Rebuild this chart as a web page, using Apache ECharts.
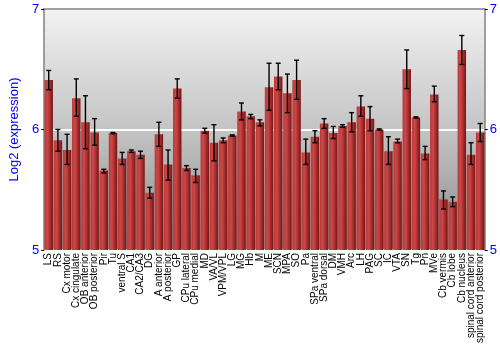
<!DOCTYPE html>
<html><head><meta charset="utf-8">
<script src="https://cdn.jsdelivr.net/npm/echarts@6/dist/echarts.min.js"></script>
<style>html,body{margin:0;padding:0;background:#fff}#c{width:500px;height:350px}</style>
</head><body><div id="c"></div>
<script>
const categories = ["LS","RS","Cx motor","Cx cingulate","OB anterior","OB posterior","Pir","Tu","ventral S","CA1","CA2/CA3","DG","A anterior","A posterior","GP","CPu lateral","CPu medial","MD","VA/VL","VPM/VPL","LG","MG","Hb","M","ME","SCN","MPA","SO","Pa","SPa ventral","SPa dorsal","DM","VMH","Arc","LH","PAG","SC","IC","VTA","SN","Tg","Pn","MVe","Cb vermis","Cb lobe","Cb nucleus","spinal cord anterior","spinal cord posterior"];
const values = [6.41,5.91,5.83,6.26,6.06,5.975,5.66,5.97,5.76,5.82,5.79,5.475,5.96,5.71,6.34,5.68,5.62,5.99,5.89,5.91,5.95,6.15,6.11,6.06,6.35,6.44,6.30,6.41,5.81,5.94,6.05,5.97,6.03,6.06,6.19,6.09,6.0,5.82,5.90,6.5,6.10,5.80,6.29,5.42,5.40,6.66,5.79,5.975];
const errHigh = [6.49,6.0,5.96,6.42,6.28,6.09,5.67,5.975,5.81,5.83,5.82,5.52,6.06,5.83,6.42,5.70,5.67,6.01,6.04,5.93,5.955,6.22,6.125,6.08,6.55,6.55,6.46,6.575,5.92,5.99,6.09,6.025,6.04,6.14,6.28,6.19,6.005,5.94,5.92,6.66,6.105,5.86,6.36,5.49,5.44,6.78,5.89,6.05];
const errLow = [6.33,5.82,5.71,6.11,5.84,5.87,5.64,5.965,5.71,5.81,5.76,5.43,5.86,5.58,6.26,5.66,5.56,5.97,5.74,5.89,5.945,6.08,6.09,6.03,6.16,6.33,6.14,6.25,5.71,5.89,6.01,5.925,6.02,5.98,6.11,5.99,5.995,5.71,5.89,6.34,6.095,5.75,6.23,5.34,5.36,6.54,5.71,5.90];
const yTicks = [5,6,7];

const chart = echarts.init(document.getElementById('c'), null, {renderer:'canvas'});
const barGrad = new echarts.graphic.LinearGradient(0,0,1,0,[
  {offset:0,color:'#b83838'},{offset:0.35,color:'#cc4848'},{offset:0.7,color:'#a42a2a'},{offset:1,color:'#701616'}
]);
const bgGrad = new echarts.graphic.LinearGradient(0,0,0,1,[
  {offset:0,color:'#f2f2f2'},{offset:0.5,color:'#c4c4c4'},{offset:1,color:'#8a8a8a'}
]);
const errData = categories.map((c,i)=>[i, errLow[i], errHigh[i]]);
const ff = 'Liberation Sans, Arial, sans-serif';
const axisLabelStyle = {color:'#0000ff', fontSize:13, fontFamily:ff, margin:5};
chart.setOption({
  animation:false,
  grid:{left:27,right:14,top:9,bottom:100,show:true,backgroundColor:bgGrad,borderWidth:0},
  xAxis:[
    {type:'category',data:categories,
     axisLine:{show:false},axisTick:{show:false},
     axisLabel:{rotate:90,interval:0,fontSize:10,color:'#000',margin:3,fontFamily:ff}},
    {type:'category',data:categories,position:'top',
     axisLine:{show:true,lineStyle:{color:'#808080',width:1.5}},axisTick:{show:false},axisLabel:{show:false}}
  ],
  yAxis:[
    {type:'value',min:5,max:7,interval:1,position:'left',
     name:'Log2 (expression)',nameLocation:'middle',nameGap:14,
     nameTextStyle:{color:'#0000ff',fontSize:13,fontFamily:ff},
     axisLine:{show:true,lineStyle:{color:'#808080',width:1.5}},
     axisTick:{show:true,length:3,lineStyle:{color:'#000'}},
     axisLabel:Object.assign({formatter:v=>yTicks.includes(v)?String(v):''},axisLabelStyle),
     splitLine:{show:true,lineStyle:{color:'#ffffff',width:2}}},
    {type:'value',min:5,max:7,interval:1,position:'right',
     axisLine:{show:true,lineStyle:{color:'#808080',width:1.5}},
     axisTick:{show:true,length:3,lineStyle:{color:'#000'}},
     axisLabel:Object.assign({formatter:v=>yTicks.includes(v)?String(v):''},axisLabelStyle),
     splitLine:{show:false}}
  ],
  series:[
    {type:'bar',data:values,barCategoryGap:'8%',itemStyle:{color:barGrad},silent:true},
    {type:'custom',data:errData,silent:true,z:5,
     renderItem:function(params,api){
       const x = api.value(0);
       const lo = api.coord([x, api.value(1)]);
       const hi = api.coord([x, api.value(2)]);
       const hw = 2.5;
       const st = {stroke:'#000',lineWidth:1.4};
       return {type:'group',children:[
         {type:'line',shape:{x1:lo[0],y1:lo[1],x2:hi[0],y2:hi[1]},style:st},
         {type:'line',shape:{x1:lo[0]-hw,y1:lo[1],x2:lo[0]+hw,y2:lo[1]},style:st},
         {type:'line',shape:{x1:hi[0]-hw,y1:hi[1],x2:hi[0]+hw,y2:hi[1]},style:st}
       ]};
     }}
  ]
});
</script></body></html>
